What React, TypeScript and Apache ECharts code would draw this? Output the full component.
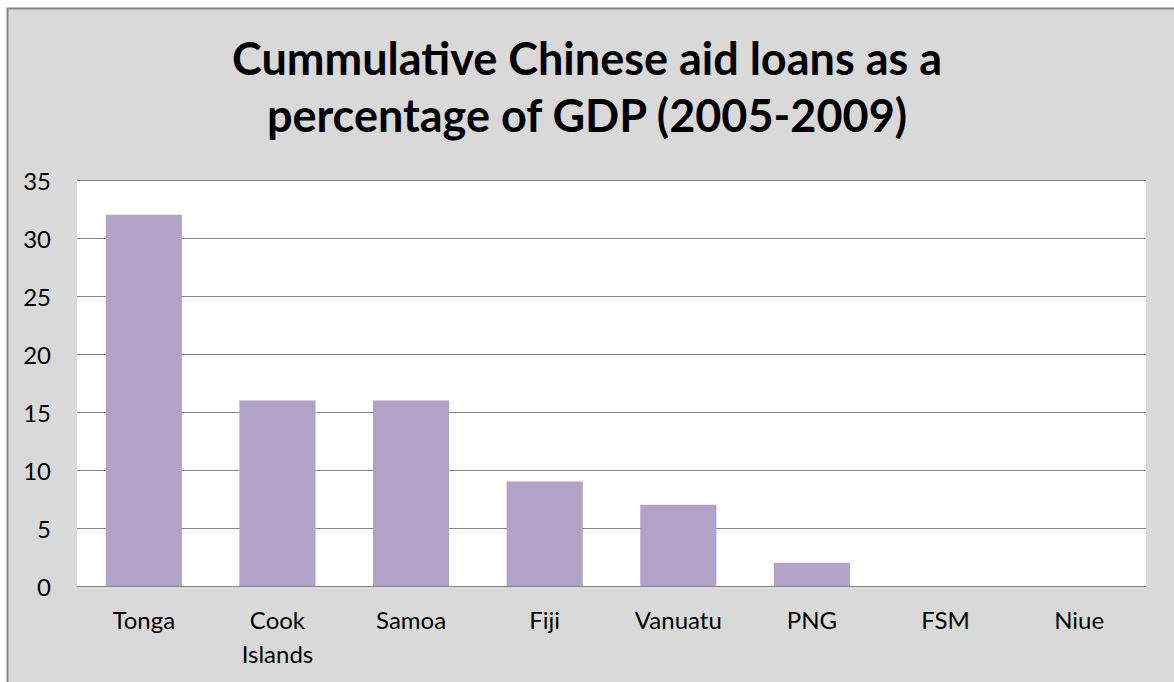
import React, { useEffect, useRef } from "react";
import * as echarts from "echarts";

const categories = ["Tonga", "Cook\nIslands", "Samoa", "Fiji", "Vanuatu", "PNG", "FSM", "Niue"];
const values = [32, 16, 16, 9, 7, 2, 0, 0];
const yTicks = { min: 0, max: 35, interval: 5 };
const titleLines = ["Cummulative Chinese aid loans as a", "percentage of GDP (2005-2009)"];

export default function App() {
  const ref = useRef<HTMLDivElement>(null);
  useEffect(() => {
    if (!ref.current) return;
    const chart = echarts.init(ref.current, null, { renderer: "svg" });
    chart.setOption({
      animation: false,
      backgroundColor: "#ffffff",
      textStyle: { fontFamily: "Lato" },
      graphic: [
        {
          type: "rect",
          z: -10,
          shape: { x: 7.5, y: 8.5, width: 1220, height: 720 },
          style: { fill: "#d9d9d9", stroke: "#878787", lineWidth: 2 },
          silent: true,
        },
      ],
      title: {
        text: titleLines.join("\n"),
        left: "center",
        top: 24,
        textStyle: {
          fontFamily: "Lato",
          fontWeight: "bold",
          fontSize: 45,
          lineHeight: 57,
          color: "#000000",
        },
      },
      grid: {
        left: 77,
        right: 28,
        top: 180,
        bottom: 96,
        show: true,
        backgroundColor: "#ffffff",
        borderWidth: 0,
        containLabel: false,
      },
      xAxis: {
        type: "category",
        data: categories,
        axisLine: { show: true, lineStyle: { color: "#868686", width: 1 } },
        axisTick: { show: false },
        axisLabel: {
          color: "#000000",
          fontSize: 24,
          lineHeight: 34,
          margin: 16,
          fontFamily: "Lato",
          interval: 0,
        },
      },
      yAxis: {
        type: "value",
        min: yTicks.min,
        max: yTicks.max,
        interval: yTicks.interval,
        axisLine: { show: false },
        axisTick: { show: false },
        splitLine: { show: true, lineStyle: { color: "#868686", width: 1 } },
        axisLabel: { color: "#000000", fontSize: 24, margin: 26, fontFamily: "Lato" },
      },
      series: [
        {
          type: "bar",
          data: values,
          barWidth: "57%",
          itemStyle: { color: "#b3a2c7" },
        },
      ],
    });
    return () => chart.dispose();
  }, []);
  return (
    <div
      ref={ref}
      style={{ position: "fixed", left: 0, top: 0, width: 1174, height: 682 }}
    />
  );
}
